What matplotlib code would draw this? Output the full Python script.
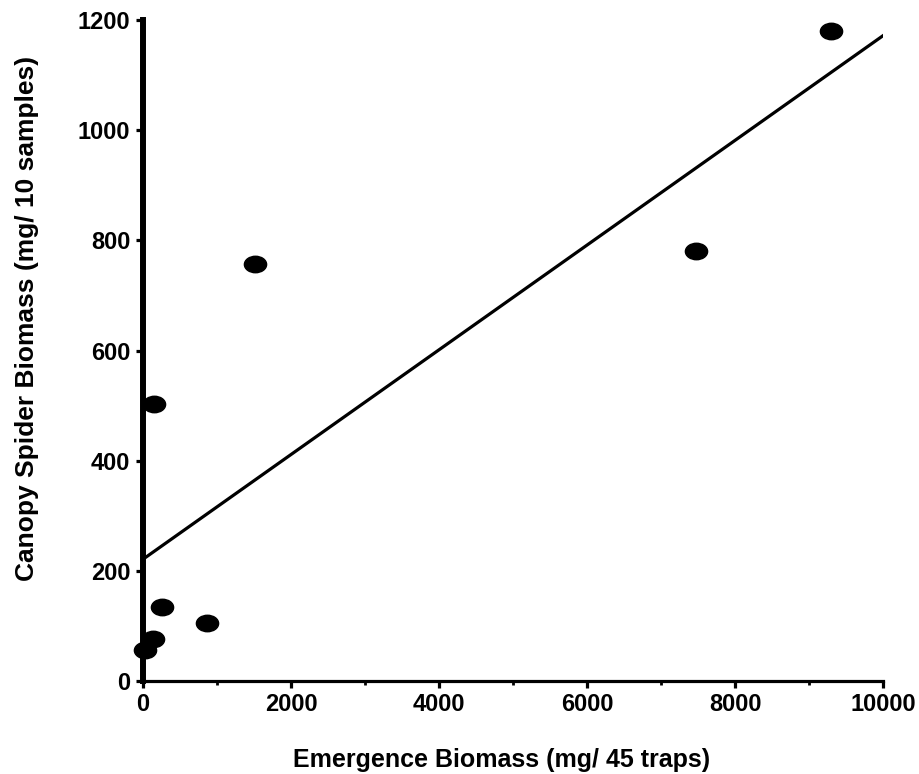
import numpy as np
import matplotlib.pyplot as plt
from matplotlib.path import Path
from matplotlib.ticker import MultipleLocator

plt.rcParams['font.family'] = ['Liberation Sans', 'DejaVu Sans']
plt.rcParams['font.weight'] = 'bold'

# data
emergence = [30, 130, 260, 870, 150, 1520, 7470, 9300]
spider = [57, 76, 135, 105, 503, 758, 780, 1180]

# regression line end points
line_x = [0, 10000]
line_y = [221, 1172]

# flattened ellipse marker
circ = Path.unit_circle()
ellipse = Path(circ.vertices * np.array([1.35, 1.0]), circ.codes)

fig = plt.figure(figsize=(9.2, 7.74), dpi=100)
ax = fig.add_axes([0.1554, 0.1202, 0.8046, 0.8538])

ax.plot(line_x, line_y, color='black', lw=2.3, zorder=2)
ax.plot(emergence, spider, linestyle='none', marker=ellipse, markersize=16,
        color='black', markeredgecolor='black', zorder=3, clip_on=False)

ax.set_xlim(0, 10000)
ax.set_ylim(0, 1200)
ax.xaxis.set_major_locator(MultipleLocator(2000))
ax.xaxis.set_minor_locator(MultipleLocator(1000))
ax.yaxis.set_major_locator(MultipleLocator(200))

for s in ['top', 'right']:
    ax.spines[s].set_visible(False)
ax.spines['left'].set_linewidth(4.3)
ax.spines['bottom'].set_linewidth(2.3)

ax.tick_params(axis='both', which='major', direction='out', length=5, width=2.3,
               labelsize=17, pad=4)
ax.tick_params(axis='x', which='minor', direction='out', length=3, width=2.0)

fig.text(502 / 920, 1 - 760 / 774, 'Emergence Biomass (mg/ 45 traps)',
         fontsize=18, fontweight='bold', ha='center', va='center')
fig.text(27 / 920, 1 - 318 / 774, 'Canopy Spider Biomass (mg/ 10 samples)',
         fontsize=19, fontweight='bold', ha='center', va='center', rotation=90)

fig.savefig('out.png', dpi=100)
